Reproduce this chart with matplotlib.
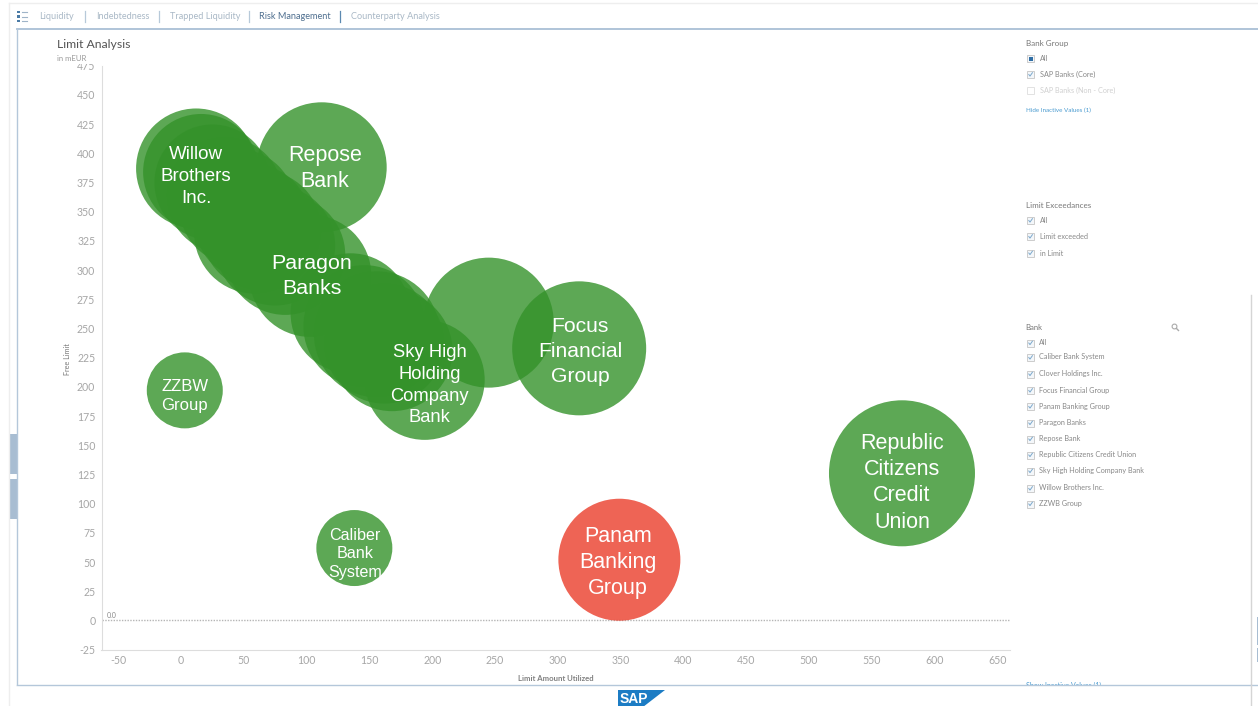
import matplotlib.pyplot as plt
from matplotlib.patches import Polygon, Rectangle

plt.rcParams['font.family'] = ['Lato', 'DejaVu Sans']
plt.rcParams['axes.unicode_minus'] = False

# bubbles (Limit Amount Utilized, Free Limit, bubble radius)
bubble_x = [112, 12, 16, 25, 35, 45, 57, 64, 59, 75, 83, 103, 135, 146, 156, 162, 168, 194, 245, 317, 3, 138, 349, 574]
bubble_y = [388, 387, 384, 375, 364, 354, 341, 334, 332, 321, 313, 295, 263, 252, 245, 237, 231, 206, 255, 233, 197, 62, 52, 126]
bubble_r = [65, 60, 58, 58, 58, 58, 58, 60, 61, 60, 60, 61, 60, 61, 63, 60, 60.5, 60, 65, 67, 38, 38, 61, 73]
bubble_c = ['g'] * 22 + ['r', 'g']

label_x = [114.5, 12, 104, 198, 318, 3, 138.5, 348, 574]
label_y = [387, 380, 295, 201.5, 230, 192.5, 57, 49.5, 118]
label_text = ['Repose\nBank', 'Willow\nBrothers\nInc.', 'Paragon\nBanks',
              'Sky High\nHolding\nCompany\nBank', 'Focus\nFinancial\nGroup',
              'ZZBW\nGroup', 'Caliber\nBank\nSystem', 'Panam\nBanking\nGroup',
              'Republic\nCitizens\nCredit\nUnion']
label_fs = [15.5, 13.5, 15.4, 13.2, 15.2, 12, 11.6, 15.5, 15.5]
label_ls = [1.31, 1.38, 1.36, 1.37, 1.41, 1.32, 1.29, 1.31, 1.335]

x_ticks = list(range(-50, 651, 50))
y_ticks = list(range(-25, 476, 25))

tabs = ['Liquidity', 'Indebtedness', 'Trapped Liquidity', 'Risk Management', 'Counterparty Analysis']
tab_x = [39, 96, 170, 259, 351]
sep_x = [85, 159, 249, 340]

group_items = ['All', 'SAP Banks (Core)', 'SAP Banks (Non - Core)']
limit_items = ['All', 'Limit exceeded', 'in Limit']
bank_items = ['All', 'Caliber Bank System', 'Clover Holdings Inc.', 'Focus Financial Group',
              'Panam Banking Group', 'Paragon Banks', 'Repose Bank',
              'Republic Citizens Credit Union', 'Sky High Holding Company Bank',
              'Willow Brothers Inc.', 'ZZWB Group']
bank_y = [343, 357.5, 374, 390.5, 406.5, 423, 439, 455, 471, 488.5, 504]

W, H = 1258, 706
fig = plt.figure(figsize=(W / 100, H / 100), dpi=100)

# chart, placed on the same pixels as the screenshot
ax = fig.add_axes([101.5 / W, 1 - 650 / H, (1010 - 101.5) / W, (650 - 65.7) / H])
ax.set_xlim(-63.3, 660)
ax.set_ylim(-25.3, 475)
for side in ['top', 'right']:
    ax.spines[side].set_visible(False)
for side in ['left', 'bottom']:
    ax.spines[side].set_color('#dddddd')
ax.set_xticks(x_ticks)
ax.set_yticks(y_ticks)
ax.tick_params(length=0, labelsize=7.6, labelcolor='#a6a6a6')
ax.tick_params(axis='y', pad=4.5)
ax.tick_params(axis='x', pad=3.5)
ax.axhline(0, color='#b5b5b5', linewidth=1, linestyle=(0, (1, 1)), zorder=1)
ax.text(-59, 1.5, '0.0', fontsize=5, color='#888888', va='bottom')

colors = {'g': '#34922a', 'r': '#ea3d2a'}
sizes = [(2 * r * 0.72) ** 2 for r in bubble_r]
ax.scatter(bubble_x, bubble_y, s=sizes, c=[colors[c] for c in bubble_c], alpha=0.8,
           linewidths=0, zorder=3)
for x, y, t, fs, ls in zip(label_x, label_y, label_text, label_fs, label_ls):
    ax.text(x, y, t, color='white', fontsize=fs, family='Liberation Sans', ha='center',
            va='center', linespacing=ls, zorder=5)

# screenshot chrome, in pixel coordinates
ui = fig.add_axes([0, 0, 1, 1], zorder=5)
ui.set_xlim(0, W)
ui.set_ylim(H, 0)
ui.axis('off')
ui.patch.set_alpha(0)

ui.plot([9, W], [3, 3], color='#eeeeee', lw=1)
ui.plot([9, 9], [3, H], color='#eeeeee', lw=1)
ui.plot([17, W], [29, 29], color='#a9bfd6', lw=1.3)
ui.plot([17, 17], [29, 685], color='#b4c7da', lw=1)
ui.plot([1251, 1251], [295, H], color='#d5d5d5', lw=1)
for y0, y1 in [(434, 474), (479, 519)]:
    ui.add_patch(Rectangle((9, y0), 8, y1 - y0, color='#a8bdd2', lw=0))
for y0, y1 in [(617, 645), (648, 662)]:
    ui.add_patch(Rectangle((1257, y0), 1, y1 - y0, color='#a8bdd2', lw=0))

for y in [12, 16.5, 21]:
    ui.add_patch(Rectangle((17, y - 1.2), 3, 2.4, color='#4a7ba6', lw=0))
    ui.plot([22, 27], [y, y], color='#9fb4c8', lw=0.8)
for t, x in zip(tabs, tab_x):
    active = t == 'Risk Management'
    ui.text(x, 16.5, t, fontsize=6.6, va='center', color='#4f6f8f' if active else '#a9b8c6')
for i, x in enumerate(sep_x):
    ui.plot([x, x], [11, 22], color='#5c89b0' if i == 3 else '#b7c9d9', lw=0.9)

ui.text(57, 44.5, 'Limit Analysis', fontsize=8.8, va='center', color='#555555')
ui.add_patch(Rectangle((55, 52), 45, 11.5, color='white', lw=0))
ui.text(57, 58.5, 'in mEUR', fontsize=5.6, va='center', color='#999999')
ui.text(67, 359, 'Free Limit', fontsize=5.2, rotation=90, ha='center', va='center', color='#777777')
ui.text(556, 678.5, 'Limit Amount Utilized', fontsize=5.6, ha='center', va='center',
        color='#808080', fontweight='bold')


def checkbox(y, state='on'):
    edge = '#e2e2e2' if state == 'off' else '#cccccc'
    face = '#f4f7fa' if state != 'off' else 'white'
    ui.add_patch(Rectangle((1027, y - 3.5), 7, 7, facecolor=face, edgecolor=edge, lw=0.7))
    if state == 'on':
        ui.plot([1028.8, 1030, 1032.4], [y, y + 1.6, y - 1.8], color='#7ba8cc', lw=0.7)
    elif state == 'fill':
        ui.add_patch(Rectangle((1028.5, y - 2), 4, 4, color='#2f6ea5', lw=0))


ui.text(1025.5, 43.5, 'Bank Group', fontsize=5.8, va='center', color='#777777')
for t, y, st in zip(group_items, [58.5, 74.5, 90.5], ['fill', 'on', 'off']):
    checkbox(y, st)
    ui.text(1040, y, t, fontsize=5.2, va='center', color='#d0d0d0' if st == 'off' else '#888888')
ui.text(1025.5, 110.5, 'Hide Inactive Values (1)', fontsize=4.5, va='center', color='#4a9bd0')

ui.text(1025.5, 205, 'Limit Exceedances', fontsize=5.8, va='center', color='#777777')
for t, y in zip(limit_items, [220.5, 236.5, 253]):
    checkbox(y)
    ui.text(1040, y, t, fontsize=5.2, va='center', color='#888888')

ui.text(1025.5, 327, 'Bank', fontsize=5.6, va='center', color='#777777')
ui.add_patch(plt.Circle((1174.5, 326.5), 2.4, fill=False, edgecolor='#aaaaaa', lw=0.8))
ui.plot([1176.5, 1178.5], [328.5, 330.5], color='#aaaaaa', lw=1)
for t, y in zip(bank_items, bank_y):
    checkbox(y)
    ui.text(1039, y - 0.5, t, fontsize=5.2, va='center', color='#888888')

# clipped link under the filter list, only its top shows above the frame
ui.text(1026, 685.5, 'Show Inactive Values (1)', fontsize=5, va='center', color='#4a9bd0')
ui.add_patch(Rectangle((17, 685), W - 17, H - 685, color='white', lw=0, zorder=3))
ui.plot([17, W], [685, 685], color='#b4c7da', lw=1, zorder=4)
ui.plot([1251, 1251], [685, H], color='#d5d5d5', lw=1, zorder=4)

# SAP logo, cut by the bottom edge
ui.add_patch(Polygon([(618, 690), (665, 690), (643, 707), (618, 707)], color='#1c7cc4', lw=0, zorder=4))
ui.text(619.5, 699, 'SAP', fontsize=10, fontweight='bold', family='Liberation Sans',
        color='white', va='center', zorder=5)

fig.savefig('out.png', dpi=100)
